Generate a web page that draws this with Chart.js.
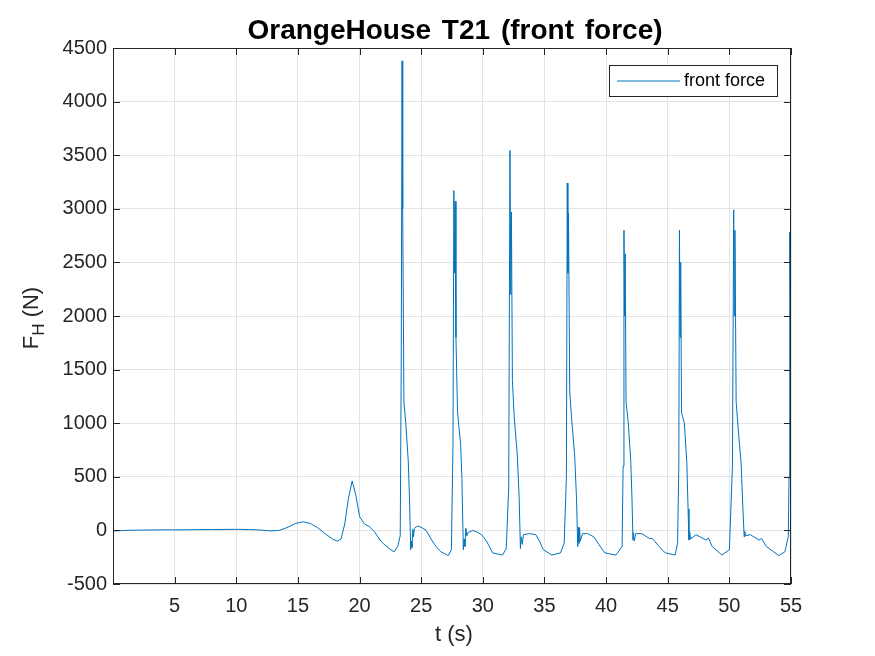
<!DOCTYPE html>
<html>
<head>
<meta charset="utf-8">
<script src="https://cdn.jsdelivr.net/npm/chart.js@4.4.1/dist/chart.umd.min.js"></script>
<style>
  html, body { margin: 0; padding: 0; background: #fff; }
  canvas { display: block; }
</style>
</head>
<body>
<canvas id="forceChart" width="875" height="656"></canvas>
<script>
// time (s) and horizontal front force (N)
const timeS = [
  0, 0.5, 1, 2, 3, 4, 5, 6, 7, 8, 9, 10, 11, 12, 12.8, 13.5, 14.2, 14.8, 15.4, 16.0,
  16.6, 17.2, 17.8, 18.2, 18.5, 18.8, 19.1, 19.4, 19.7, 20.0, 20.4, 20.8, 21.2, 21.6, 21.9, 22.4,
  22.8, 23.1, 23.3, 23.38, 23.45, 23.5, 23.6, 23.75, 23.95, 24.05, 24.15, 24.2, 24.25, 24.32, 24.38, 24.45,
  24.7, 25.0, 25.4, 25.8, 26.2, 26.6, 27.2, 27.45, 27.58, 27.65, 27.7, 27.75, 27.82, 27.95, 28.2, 28.3,
  28.42, 28.48, 28.55, 28.62, 28.7, 28.8, 29.2, 29.6, 29.9, 30.3, 30.8, 31.6, 31.9, 32.1, 32.2, 32.27,
  32.32, 32.4, 32.55, 32.8, 32.95, 33.05, 33.12, 33.2, 33.3, 33.8, 34.3, 34.6, 34.9, 35.6, 36.3, 36.6,
  36.78, 36.85, 36.9, 36.95, 37.05, 37.2, 37.45, 37.6, 37.7, 37.75, 37.8, 37.85, 37.9, 38.1, 38.5, 39.0,
  39.4, 39.9, 40.8, 41.3, 41.38, 41.45, 41.5, 41.55, 41.62, 41.8, 42.0, 42.1, 42.18, 42.22, 42.28, 42.4,
  42.9, 43.5, 43.75, 44.3, 44.8, 45.6, 45.8, 45.9, 45.95, 46.0, 46.05, 46.12, 46.35, 46.55, 46.65, 46.72,
  46.78, 46.85, 47.3, 48.1, 48.3, 48.6, 49.4, 50.0, 50.25, 50.35, 50.4, 50.45, 50.55, 50.75, 50.95, 51.1,
  51.2, 51.25, 51.32, 51.7, 52.4, 52.6, 53.0, 54.0, 54.5, 54.78, 54.84, 54.88, 54.91, 54.95
]
const frontForce = [
  -5, -3, 0, 2, 4, 5, 5, 6, 7, 8, 9, 10, 8, 3, -5, 0, 30, 65, 80, 65,
  25, -30, -80, -100, -80, 60, 300, 460, 330, 130, 60, 35, -10, -80, -120, -170,
  -200, -150, -50, 1500, 4380, 3000, 1200, 1000, 650, 300, -180, -100, -160, 10, -60, 20,
  40, 30, 0, -80, -150, -200, -235, -180, 800, 3170, 2400, 3070, 1800, 1100, 800, 500,
  -180, -80, -150, 20, -50, -20, 0, -20, -40, -100, -210, -230, -170, 400, 3545, 2200,
  2970, 1400, 1050, 700, 300, -170, -60, -130, -40, -30, -40, -100, -180, -230, -210, -120,
  500, 3240, 2400, 2960, 1300, 1050, 700, 300, -150, 30, -120, 20, -100, -30, -30, -60,
  -130, -210, -230, -150, 600, 2800, 2000, 2580, 1200, 1000, 650, 300, -90, -20, -100, -30,
  -30, -75, -75, -150, -210, -230, -120, 600, 2800, 1800, 2500, 1100, 1000, 630, 200, -90,
  -10, -80, -40, -90, -70, -150, -230, -180, 600, 2990, 2000, 2800, 1200, 900, 630, 200,
  -60, -10, -50, -40, -90, -75, -150, -235, -200, -60, 500, 1800, 2780, 2200
]
const xTicks = [0, 5, 10, 15, 20, 25, 30, 35, 40, 45, 50, 55]
const yTicks = [-500, 0, 500, 1000, 1500, 2000, 2500, 3000, 3500, 4000, 4500]

const axisColor = '#262626'
const lineColor = '#0072bd'
const fontFamily = 'Arial, "Liberation Sans", Helvetica, sans-serif'

// MATLAB-like frame: title, box, inward ticks, axis labels, legend
const matlabFrame = {
  id: 'matlabFrame',
  afterDraw(chart) {
    const { ctx, chartArea: a, scales } = chart
    ctx.save()

    // box
    ctx.strokeStyle = axisColor
    ctx.lineWidth = 1
    ctx.strokeRect(a.left + 0.5, a.top + 0.5, a.right - a.left - 1, a.bottom - a.top - 1)

    // inward ticks
    ctx.beginPath()
    xTicks.forEach(v => {
      const x = Math.round(scales.x.getPixelForValue(v)) + 0.5
      ctx.moveTo(x, a.bottom); ctx.lineTo(x, a.bottom - 7)
      ctx.moveTo(x, a.top); ctx.lineTo(x, a.top + 7)
    })
    yTicks.forEach(v => {
      const y = Math.round(scales.y.getPixelForValue(v)) + 0.5
      ctx.moveTo(a.left, y); ctx.lineTo(a.left + 7, y)
      ctx.moveTo(a.right, y); ctx.lineTo(a.right - 7, y)
    })
    ctx.stroke()

    // title
    ctx.fillStyle = '#000'
    ctx.font = 'bold 28px ' + fontFamily
    ctx.wordSpacing = '3px'
    ctx.textAlign = 'center'
    ctx.textBaseline = 'alphabetic'
    ctx.fillText('OrangeHouse T21 (front force)', (a.left + a.right) / 2 + 3, 39)
    ctx.wordSpacing = '0px'

    // x label
    ctx.fillStyle = axisColor
    ctx.font = '22px ' + fontFamily
    ctx.fillText('t (s)', (a.left + a.right) / 2 + 2, 641)

    // y label with subscript
    ctx.save()
    ctx.translate(38, (a.top + a.bottom) / 2 + 2)
    ctx.rotate(-Math.PI / 2)
    ctx.textAlign = 'left'
    ctx.font = '22px ' + fontFamily
    const main = 'F', sub = 'H', rest = ' (N)'
    const wMain = ctx.measureText(main).width
    ctx.font = '17px ' + fontFamily
    const wSub = ctx.measureText(sub).width
    ctx.font = '22px ' + fontFamily
    const wRest = ctx.measureText(rest).width
    const x0 = -(wMain + wSub + wRest) / 2
    ctx.fillText(main, x0, 0)
    ctx.font = '17px ' + fontFamily
    ctx.fillText(sub, x0 + wMain, 6)
    ctx.font = '22px ' + fontFamily
    ctx.fillText(rest, x0 + wMain + wSub, 0)
    ctx.restore()

    // legend
    const lx = 609, ly = 65, lw = 168, lh = 31
    ctx.fillStyle = '#fff'
    ctx.fillRect(lx, ly, lw, lh)
    ctx.strokeStyle = axisColor
    ctx.strokeRect(lx + 0.5, ly + 0.5, lw, lh)
    ctx.strokeStyle = lineColor
    ctx.beginPath()
    ctx.moveTo(617, ly + lh / 2 + 0.5); ctx.lineTo(680, ly + lh / 2 + 0.5)
    ctx.stroke()
    ctx.fillStyle = '#000'
    ctx.font = '18px ' + fontFamily
    ctx.textAlign = 'left'
    ctx.textBaseline = 'middle'
    ctx.fillText('front force', 684, ly + lh / 2 + 1)

    ctx.restore()
  }
}

const points = timeS.map((t, i) => ({ x: t, y: frontForce[i] }))

new Chart(document.getElementById('forceChart').getContext('2d'), {
  type: 'line',
  data: {
    datasets: [
      {
        label: 'front force',
        data: points,
        borderColor: lineColor,
        borderWidth: 1,
        pointRadius: 0,
        tension: 0,
        fill: false,
      },
    ],
  },
  options: {
    responsive: false,
    animation: false,
    events: [],
    layout: { padding: { top: 48, right: 84, left: 0, bottom: 0 } },
    plugins: { legend: { display: false }, title: { display: false }, tooltip: { enabled: false } },
    scales: {
      x: {
        type: 'linear',
        min: 0,
        max: 55,
        afterFit: s => { s.height = 72 },
        afterBuildTicks: s => { s.ticks = xTicks.map(v => ({ value: v })) },
        grid: { color: '#e3e3e3', drawTicks: false },
        border: { display: false },
        ticks: {
          color: axisColor,
          font: { family: fontFamily, size: 20 },
          padding: 10,
          callback: v => (v === 0 ? '' : String(v)),
        },
      },
      y: {
        type: 'linear',
        min: -500,
        max: 4500,
        afterFit: s => { s.width = 113 },
        afterBuildTicks: s => { s.ticks = yTicks.map(v => ({ value: v })) },
        grid: { color: '#e3e3e3', drawTicks: false },
        border: { display: false },
        ticks: {
          color: axisColor,
          font: { family: fontFamily, size: 20 },
          padding: 6,
          callback: v => String(v),
        },
      },
    },
  },
  plugins: [matlabFrame],
})
</script>
</body>
</html>
